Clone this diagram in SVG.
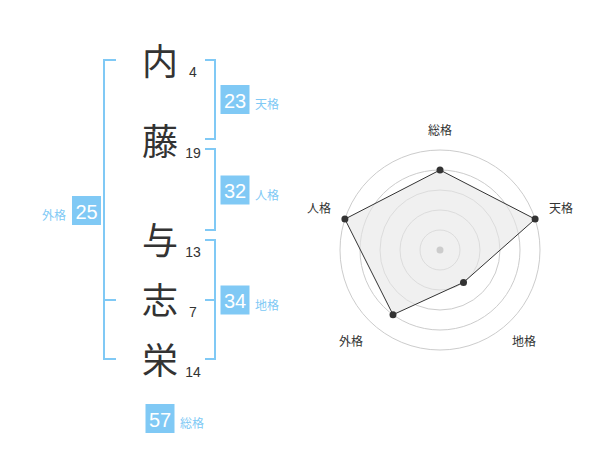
<svg xmlns="http://www.w3.org/2000/svg" width="600" height="470" viewBox="0 0 600 470">
<style>
.ch{font-family:"Noto Sans CJK JP","Noto Sans CJK SC",sans-serif;font-size:36px;fill:#333;text-anchor:middle}
.num{font-family:"Liberation Sans",Arial,sans-serif;font-size:14px;fill:#333;text-anchor:middle}
.box{fill:#80c9f5}
.bt{font-family:"Liberation Sans",Arial,sans-serif;font-size:20px;fill:#fff;text-anchor:middle}
.lb{font-family:"Noto Sans CJK JP",sans-serif;font-size:12px;fill:#80c9f5}
.br{fill:none;stroke:#80c9f5;stroke-width:2}
.ring{fill:none;stroke:#cccccc;stroke-width:1}
.rl{font-family:"Noto Sans CJK JP",sans-serif;font-size:12px;fill:#333;text-anchor:middle}
.dot{fill:#333}
</style>
<rect width="600" height="470" fill="#fff"/>
<g id="connectors">
<path class="br" d="M116,60 H104 V359 H116 M104,300 H116"/>
<path class="br" d="M205,60 H215 V139 H205"/>
<path class="br" d="M205,149 H215 V230 H205"/>
<path class="br" d="M205,240 H215 V359 H205 M205,300 H215"/>
</g>
<g id="char-1"><text class="ch" x="160" y="75">内</text><text class="num" x="193" y="77">4</text></g>
<g id="char-2"><text class="ch" x="160" y="155">藤</text><text class="num" x="193" y="158">19</text></g>
<g id="char-3"><text class="ch" x="160" y="254">与</text><text class="num" x="193" y="257">13</text></g>
<g id="char-4"><text class="ch" x="160" y="314">志</text><text class="num" x="193" y="317">7</text></g>
<g id="char-5"><text class="ch" x="160" y="374">栄</text><text class="num" x="193" y="377">14</text></g>
<g id="tenkaku"><rect class="box" x="220.5" y="85" width="29" height="29"/><text class="bt" x="235" y="107.5">23</text><text class="lb" x="255" y="109">天格</text></g>
<g id="jinkaku"><rect class="box" x="220.5" y="175.5" width="29" height="29"/><text class="bt" x="235" y="198">32</text><text class="lb" x="255" y="199.5">人格</text></g>
<g id="chikaku"><rect class="box" x="220.5" y="285.5" width="29" height="29"/><text class="bt" x="235" y="308">34</text><text class="lb" x="255" y="309.5">地格</text></g>
<g id="gaikaku"><rect class="box" x="72" y="196" width="29" height="29"/><text class="bt" x="86.5" y="218.5">25</text><text class="lb" x="66" y="220" text-anchor="end">外格</text></g>
<g id="sokaku"><rect class="box" x="145.5" y="404" width="29" height="29"/><text class="bt" x="160" y="426.5">57</text><text class="lb" x="180" y="428">総格</text></g>
<g id="radar">
<circle class="ring" cx="440" cy="250" r="20"/>
<circle class="ring" cx="440" cy="250" r="40"/>
<circle class="ring" cx="440" cy="250" r="60"/>
<circle class="ring" cx="440" cy="250" r="80"/>
<circle class="ring" cx="440" cy="250" r="100"/>
<polygon points="440,170 535.1,219.1 463.5,282.4 393,314.7 344.9,219.1" fill="#e6e6e6" fill-opacity="0.6" stroke="#333" stroke-width="1"/>
<circle cx="440" cy="250" r="3.5" fill="#cccccc"/>
<circle class="dot" cx="440" cy="170" r="3.5"/>
<circle class="dot" cx="535.1" cy="219.1" r="3.5"/>
<circle class="dot" cx="463.5" cy="282.4" r="3.5"/>
<circle class="dot" cx="393" cy="314.7" r="3.5"/>
<circle class="dot" cx="344.9" cy="219.1" r="3.5"/>
<text class="rl" x="440" y="135">総格</text>
<text class="rl" x="561" y="213">天格</text>
<text class="rl" x="524" y="346">地格</text>
<text class="rl" x="351" y="346">外格</text>
<text class="rl" x="319" y="213">人格</text>
</g>
</svg>
